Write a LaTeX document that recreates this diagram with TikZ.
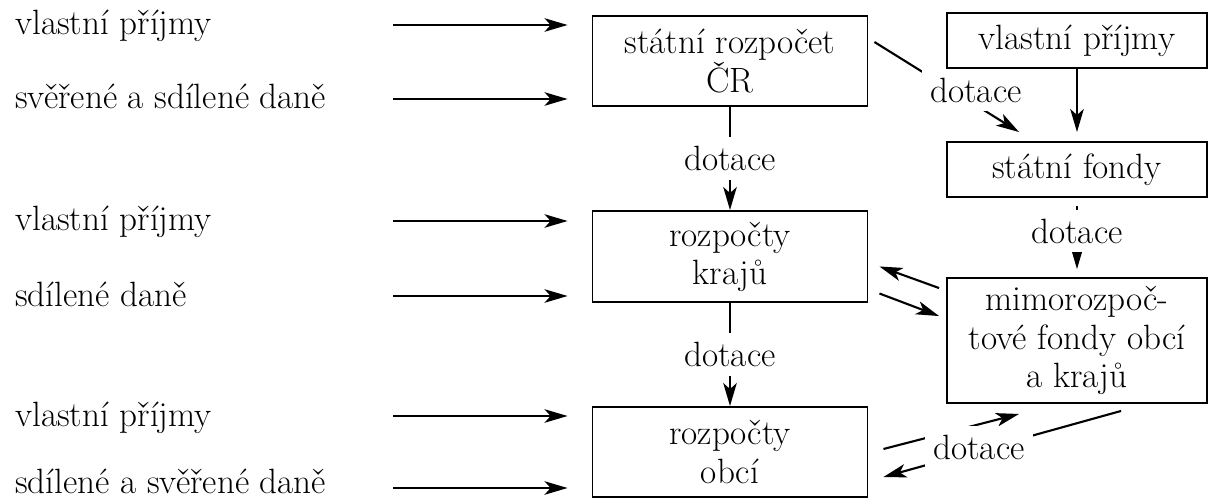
\documentclass[tikz,border=0pt]{standalone}
\usepackage{tikz}
\usetikzlibrary{calc, arrows.meta, positioning}
\newcommand{\schemafont}{\fontsize{20}{21.7}\selectfont}

\begin{document}
\begin{tikzpicture}[x=0.02cm, y=-0.02cm, font=\schemafont,
  box/.style={draw, line width=1.1pt, align=center, inner sep=0pt},
  lbl/.style={anchor=base west, inner sep=0pt},
  arr/.style={-{Stealth[length=0.46cm, width=0.27cm, inset=0.12cm]}, line width=1.2pt},
  dot/.style={fill=white, inner sep=5pt}]
\useasboundingbox (0,0) rectangle (1208,500);
\clip (0,0) rectangle (1208,500);
% boxes
\node[box, minimum width=5.5cm, minimum height=1.8cm] (rozpocet) at (730,61) {státní rozpočet\\ČR};
\node[box, minimum width=5.5cm, minimum height=1.82cm] (kraje) at (730,256.5) {rozpočty\\krajů};
\node[box, minimum width=5.5cm, minimum height=1.8cm] (obce) at (730,452) {rozpočty\\obcí};
\node[box, minimum width=5.2cm, minimum height=1.1cm] (prijmy) at (1077,40.5) {vlastní příjmy};
\node[box, minimum width=5.2cm, minimum height=1.1cm] (fondy) at (1077,169.5) {státní fondy};
\node[box, minimum width=5.2cm, minimum height=2.5cm] (mimo) at (1077,340.5) {mimorozpoč-\\tové fondy obcí\\a krajů};
% left side
\node[lbl] (v1) at (15,35) {vlastní příjmy};
\node[lbl] (d1) at (15,109) {svěřené a sdílené daně};
\node[lbl] (v2) at (15,231) {vlastní příjmy};
\node[lbl] (d2) at (15,306) {sdílené daně};
\node[lbl] (v3) at (15,426) {vlastní příjmy};
\node[lbl] (d3) at (15,493) {sdílené a svěřené daně};
\coordinate (a1) at (393,25);
\coordinate (a2) at (393,99);
\coordinate (a3) at (393,221);
\coordinate (a4) at (393,296);
\coordinate (a5) at (393,416);
\coordinate (a6) at (393,488);
\draw[arr, shorten >=0.48cm] (a1) -- (a1 -| rozpocet.west);
\draw[arr, shorten >=0.48cm] (a2) -- (a2 -| rozpocet.west);
\draw[arr, shorten >=0.48cm] (a3) -- (a3 -| kraje.west);
\draw[arr, shorten >=0.48cm] (a4) -- (a4 -| kraje.west);
\draw[arr, shorten >=0.48cm] (a5) -- (a5 -| obce.west);
\draw[arr, shorten >=0.48cm] (a6) -- (a6 -| obce.west);
% dotace down the middle
\draw[arr] (rozpocet) -- (kraje) node[dot, midway] {dotace};
\draw[arr] (kraje) -- (obce) node[dot, midway] {dotace};
% right column
\draw[arr, shorten >=0.18cm] (prijmy) -- (fondy);
\draw[arr, shorten <=0.16cm, shorten >=0.16cm] (fondy) -- (mimo) node[dot, pos=0.42] {dotace};
\draw[arr] ($(rozpocet.east)+(6,-19)$) -- ($(fondy.north west)+(73,-9)$);
\node[dot] (dt1) at (976,90) {dotace};
% between krajů and mimorozpočtové fondy
\draw[arr] ($(mimo.north west)+(-7,11)$) -- ($(kraje.east)+(11,10)$);
\draw[arr] ($(kraje.east)+(11,37)$) -- ($(mimo.north west)+(-7,39)$);
% between obcí and mimorozpočtové fondy
\draw[arr] ($(obce.east)+(15,-3)$) -- ($(mimo.south west)+(73,10)$);
\draw[arr] ($(mimo.south west)+(175,7)$) -- ($(obce.east)+(15,25)$);
\node[dot] (dt4) at (979,447) {dotace};
\end{tikzpicture}
\end{document}
